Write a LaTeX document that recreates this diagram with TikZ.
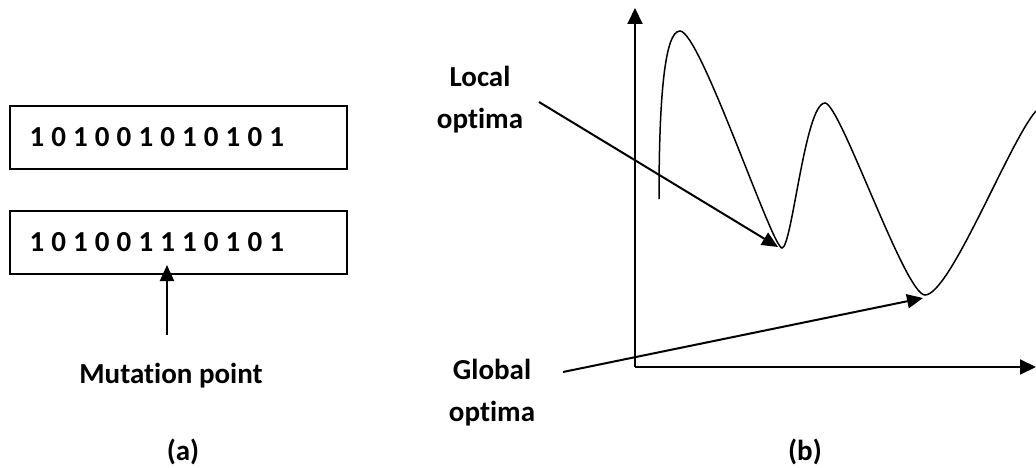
\documentclass[tikz,border=0pt]{standalone}
\usepackage{fontspec}
\setmainfont{Carlito}[RawFeature={-liga}]
\usetikzlibrary{arrows.meta}
\newcommand\bitsp{\spaceskip=7.1pt plus 0pt minus 0pt\xspaceskip=7.1pt\relax}
\begin{document}
\begin{tikzpicture}[x=1pt,y=-1pt,
  lbl/.style={font=\bfseries\fontsize{29}{42}\selectfont, align=center, inner sep=0pt},
  bitbox/.style={draw, line width=2pt, minimum width=337pt, minimum height=63pt,
    inner xsep=19.5pt, inner ysep=0pt, text width=298pt, align=left,
    font=\bfseries\fontsize{29}{32}\selectfont},
  arr/.style={line width=2pt, -{Triangle[length=16pt,width=14pt]}},
  axis/.style={line width=2pt, -{Triangle[length=16pt,width=15pt]}},
  curve/.style={line width=1.5pt}]
\useasboundingbox (0,0) rectangle (1036,468);
% panel (a)
\node[bitbox] (s1) at (178.5,137.5) {\bitsp 1 0 1 0 0 1 0 1 0 1 0 1};
\node[bitbox] (s2) at (178.5,242) {\bitsp 1 0 1 0 0 1 1 1 0 1 0 1};
\node[lbl] (mp) at (171,376) {Mutation point};
\node[lbl] (la) at (183,452) {(a)};
\coordinate (mtail) at (167,335);
\coordinate (mtip) at (167,265);
\draw[arr] (mtail) -- (mtip);
% panel (b)
\coordinate (O) at (635,367);
\coordinate (ytop) at (635,8);
\coordinate (xend) at (1036,367);
\draw[axis] (O) -- (ytop);
\draw[axis] (O) -- (xend);
\draw[curve] (659,199) .. controls (659,95) and (665,31) .. (680,31)
  .. controls (700,31) and (772,248) .. (782,248)
  .. controls (792,248) and (805,103) .. (825,103)
  .. controls (840,103) and (905,295) .. (925,295)
  .. controls (950,295) and (1010,140) .. (1036,111);
\node[lbl] (loc) at (480,100) {Local\\optima};
\node[lbl] (glo) at (492,393) {Global\\optima};
\node[lbl] (lb) at (805,452) {(b)};
\coordinate (locstart) at (539,102);
\coordinate (loctip) at (778,247);
\coordinate (glostart) at (563,372);
\coordinate (glotip) at (923,298);
\draw[arr] (locstart) -- (loctip);
\draw[arr] (glostart) -- (glotip);
\end{tikzpicture}
\end{document}
